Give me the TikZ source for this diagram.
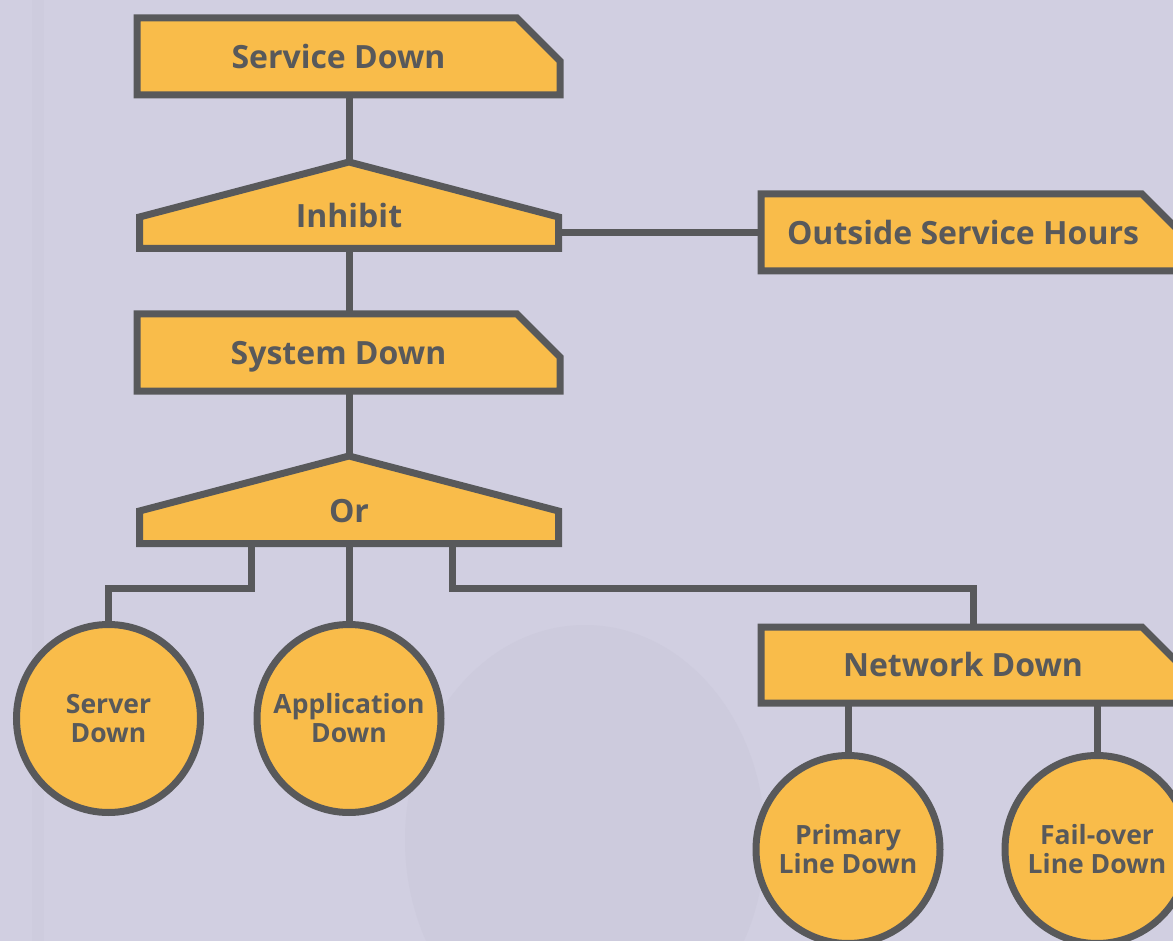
\documentclass[tikz,border=0pt]{standalone}
\usepackage{fontspec}
\setmainfont{Open Sans}
\usepackage{tikz}
\usetikzlibrary{shapes.geometric}

\definecolor{gold}{HTML}{F9BC4A}
\definecolor{edge}{HTML}{58595B}
\definecolor{lilac}{HTML}{D1CFE1}

\tikzset{
  outline/.style = {draw=edge, fill=gold, line width=7pt, line join=miter},
  wire/.style = {draw=edge, line width=7pt},
  frame/.style = {rectangle, inner sep=0pt, outer sep=0pt},
  title/.style = {text=edge, inner sep=0pt, text height=23pt, text depth=0pt, font=\fontsize{32}{36}\selectfont\bfseries},
  basic/.style = {ellipse, draw=edge, fill=gold, line width=7pt, minimum width=184pt, minimum height=188pt, inner xsep=-30pt, inner ysep=0pt, align=center, text=edge, font=\fontsize{26.5}{29}\selectfont\bfseries},
}

\begin{document}
\begin{tikzpicture}[x=1pt, y=-1pt]
\useasboundingbox (0,0) rectangle (1173,941);
\clip (0,0) rectangle (1173,941);
\fill[lilac] (0,0) rectangle (1173,941);
\fill[lilac!98.5!black] (32,0) rectangle (44,941);
\fill[lilac!98!black] (585,840) ellipse [x radius=180pt, y radius=215pt];

\node[frame, minimum width=423pt, minimum height=77pt] (sdown) at (348.5,56.5) {};
\node[frame, minimum width=419pt, minimum height=86.5pt] (inhibit) at (349,205.25) {};
\node[frame, minimum width=423pt, minimum height=77pt] (sysdown) at (348.5,352.5) {};
\node[frame, minimum width=419pt, minimum height=87.5pt] (orgate) at (349,499.75) {};
\node[frame, minimum width=424pt, minimum height=77pt] (outside) at (973,232.5) {};
\node[frame, minimum width=424pt, minimum height=76pt] (netdown) at (973,665) {};

\node[basic] (server) at (108.5,718.5) {Server\\Down};
\node[basic] (app) at (349,718.5) {Application\\Down};
\node[basic] (primary) at (848,849.5) {Primary\\Line Down};
\node[basic] (failover) at (1097,849.5) {Fail-over\\Line Down};

\coordinate (orl) at (251,588);
\coordinate (orr) at (452,588);

\draw[wire] (inhibit.north |- sdown.south) -- (inhibit.north);
\draw[wire] (inhibit.south) -- (inhibit.south |- sysdown.north);
\draw[wire] (orgate.north |- sysdown.south) -- (orgate.north);
\draw[wire] (inhibit.east |- outside.west) -- (outside.west);
\draw[wire] (orl |- orgate.south) -- (orl) -| (server.north);
\draw[wire] (orgate.south) -- (app.north);
\draw[wire] (orr |- orgate.south) -- (orr) -| (netdown.north);
\draw[wire] (primary.north |- netdown.south) -- (primary.north);
\draw[wire] (failover.north |- netdown.south) -- (failover.north);

\foreach \n in {sdown, sysdown, outside, netdown}
  \draw[outline] (\n.south west) -- (\n.north west) -- ([xshift=-43pt]\n.north east)
    -- ([yshift=-43pt]\n.north east) -- (\n.south east) -- cycle;
\foreach \n in {inhibit, orgate}
  \draw[outline] (\n.south west) -- ([yshift=-55pt]\n.north west) -- (\n.north)
    -- ([yshift=-55pt]\n.north east) -- (\n.south east) -- cycle;

\node[title] (sdowntxt) at ([xshift=-10pt,yshift=-1pt]sdown.center) {Service Down};
\node[title] (inhibittxt) at ([yshift=-11pt]inhibit.center) {Inhibit};
\node[title] (sysdowntxt) at ([xshift=-10pt,yshift=-1pt]sysdown.center) {System Down};
\node[title] (ortxt) at ([yshift=-11pt]orgate.center) {Or};
\node[title] (outsidetxt) at ([xshift=-10pt,yshift=-1pt]outside.center) {Outside Service Hours};
\node[title] (netdowntxt) at ([xshift=-10pt]netdown.center) {Network Down};
\end{tikzpicture}
\end{document}
